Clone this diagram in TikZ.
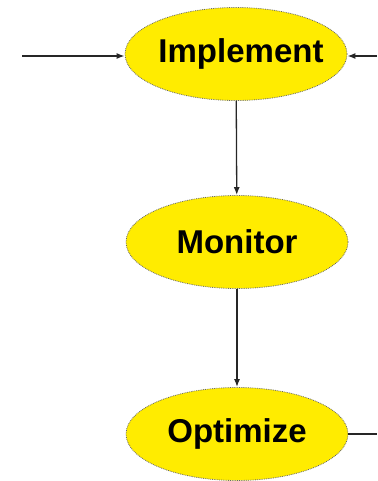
\documentclass[tikz,border=0pt]{standalone}
\usepackage{fontspec}
\setmainfont{Liberation Sans}
\usetikzlibrary{shapes.geometric,arrows.meta}
\definecolor{stepyellow}{RGB}{255,236,0}

\begin{document}
\begin{tikzpicture}[x=1pt, y=-1pt,
  stage/.style={ellipse, draw=black!60, line width=0.8pt, densely dotted, fill=stepyellow, minimum width=222pt, minimum height=93pt, inner sep=0pt, font=\fontsize{33}{36}\selectfont\bfseries},
  flow/.style={-{Latex[length=8pt,width=6pt]}, line width=1.3pt, black!85}]

  \useasboundingbox (0,0) rectangle (377,481);

  % Stages of the cycle (zero-width text so the ellipse keeps its size)
  \node[stage] (impl) at (236,54)  {\makebox[0pt]{\hspace{10pt}Implement}};
  \node[stage] (mon)  at (237,242) {\makebox[0pt]{Monitor}};
  \node[stage] (opt)  at (237,434) {\makebox[0pt]{Optimize}};

  % loose ends at the sides
  \coordinate (inL)  at (22,56);
  \coordinate (inR)  at (377,56);
  \coordinate (outR) at (377,434);

  % Connectors
  \draw[flow] (inL) -- (impl.west |- inL);
  \draw[flow] (inR) -- (impl.east |- inR);
  \draw[flow] (impl) -- (mon);
  \draw[flow] (mon) -- (opt);
  \draw[line width=1.3pt, black!85] (opt.east) -- (outR);

\end{tikzpicture}
\end{document}
